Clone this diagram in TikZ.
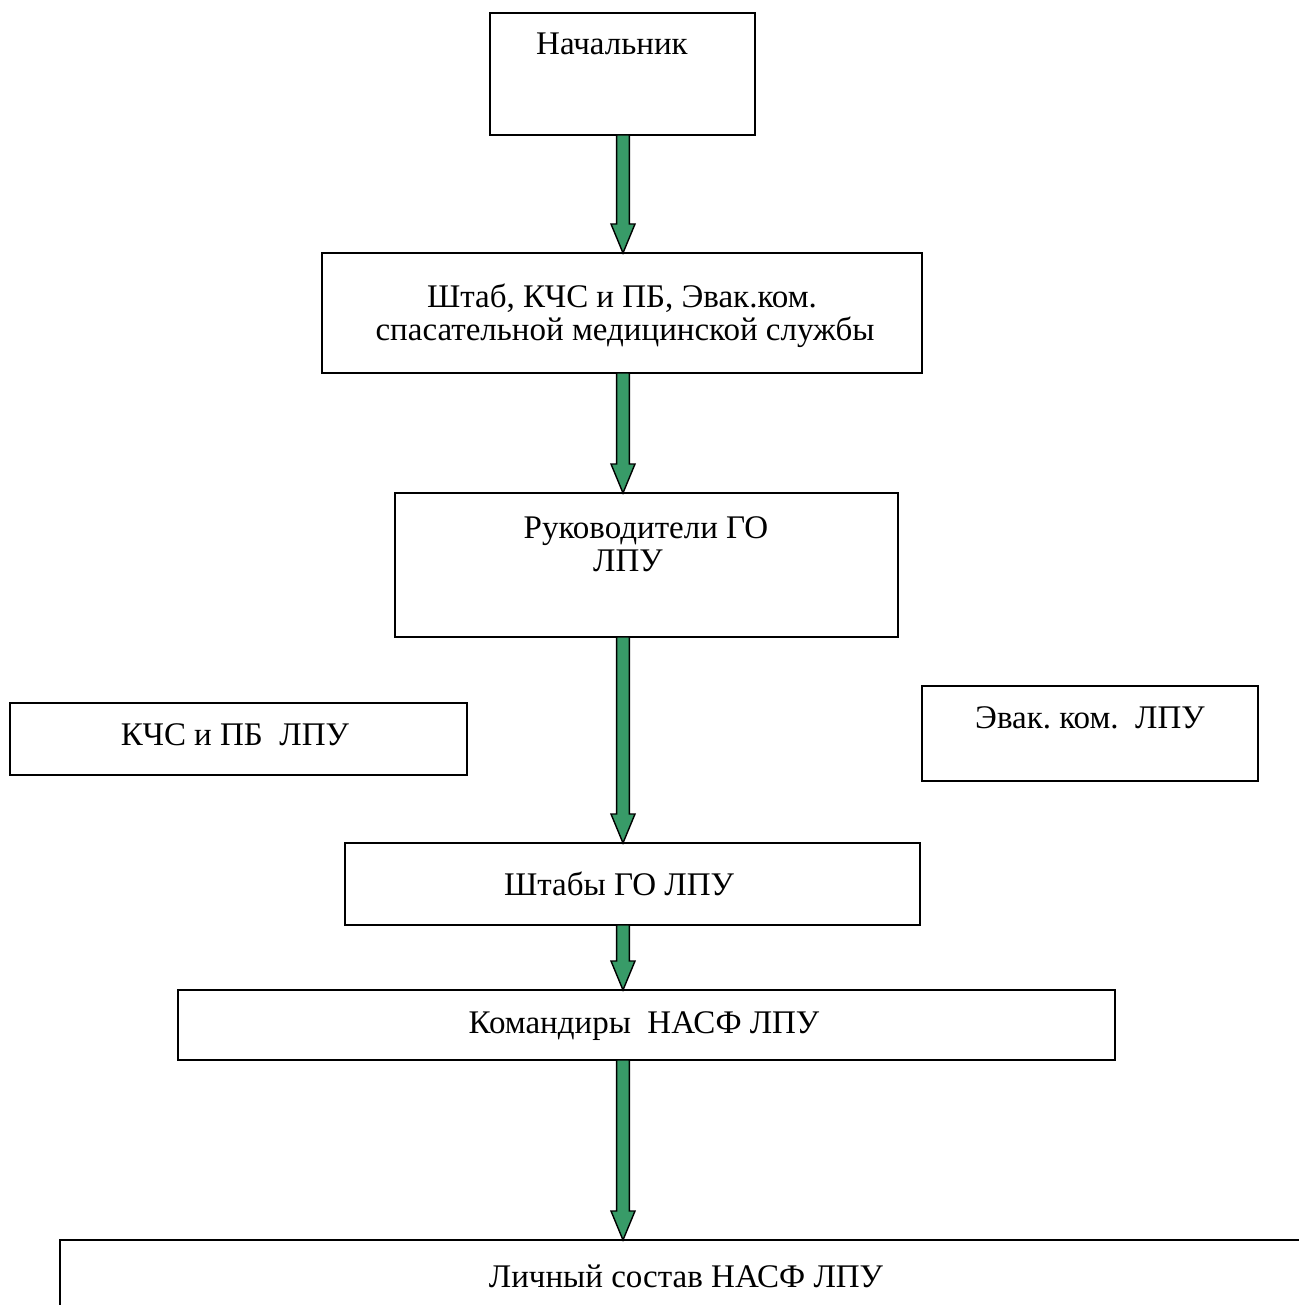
\documentclass[tikz,border=0pt]{standalone}
\usepackage{fontspec}
\setmainfont{Liberation Serif}
\usetikzlibrary{calc}
\definecolor{agreen}{RGB}{56,155,104}
\tikzset{
  box/.style={draw=black, line width=1.1pt, fill=white, inner sep=0pt, outer sep=0pt},
  txt/.style={anchor=base, inner sep=0pt, font=\fontsize{16.5pt}{16.5pt}\selectfont},
  garrow/.style={draw=black, line width=0.7pt, fill=agreen, line join=miter}
}
\newcommand{\boxat}[5]{\node[box, anchor=north west, minimum width={(#4-#2)*0.5pt}, minimum height={(#5-#3)*0.5pt}] (#1) at (#2,#3) {};}
\newcommand{\gdown}[2]{\draw[garrow] let \p1=(#1.south -| ax), \p2=(#2.north -| ax) in
  (\x1-3.2pt,\y1) -- (\x1+3.2pt,\y1) -- (\x1+3.2pt,\y2+14.5pt) -- (\x1+6pt,\y2+14.5pt) -- (\x1,\y2)
  -- (\x1-6pt,\y2+14.5pt) -- (\x1-3.2pt,\y2+14.5pt) -- cycle;}
\begin{document}
\begin{tikzpicture}[x=0.5pt,y=-0.5pt]
\useasboundingbox (0,0) rectangle (1299,1305);
\clip (0,0) rectangle (1299,1305);
\coordinate (ax) at (623,0);
% boxes
\boxat{nach}{490}{13}{755}{135}
\boxat{shtab}{322}{253}{922}{373}
\boxat{ruk}{395}{493}{898}{637}
\boxat{kchs}{10}{703}{467}{775}
\boxat{evak}{922}{686}{1258}{781}
\boxat{shgo}{345}{843}{920}{925}
\boxat{kom}{178}{990}{1115}{1060}
\boxat{lich}{60}{1240}{1330}{1340}
% texts
\node[txt] (tnach) at (612,55) {Начальник};
\node[txt] (tshtab1) at (622,307) {Штаб, КЧС и ПБ, Эвак.ком.};
\node[txt] (tshtab2) at (625,340) {спасательной медицинской службы};
\node[txt] (truk1) at (646,538) {Руководители ГО};
\node[txt] (truk2) at (628,571) {ЛПУ};
\node[txt] (tkchs) at (235,745) {КЧС и ПБ\ \ ЛПУ};
\node[txt] (tevak) at (1090,728) {Эвак.\ ком.\ \ ЛПУ};
\node[txt] (tshgo) at (619,895) {Штабы ГО ЛПУ};
\node[txt] (tkom) at (644,1033) {Командиры\ \ НАСФ ЛПУ};
\node[txt] (tlich) at (686,1287) {Личный состав НАСФ ЛПУ};
% arrows
\gdown{nach}{shtab}
\gdown{shtab}{ruk}
\gdown{ruk}{shgo}
\gdown{shgo}{kom}
\gdown{kom}{lich}
\end{tikzpicture}
\end{document}
